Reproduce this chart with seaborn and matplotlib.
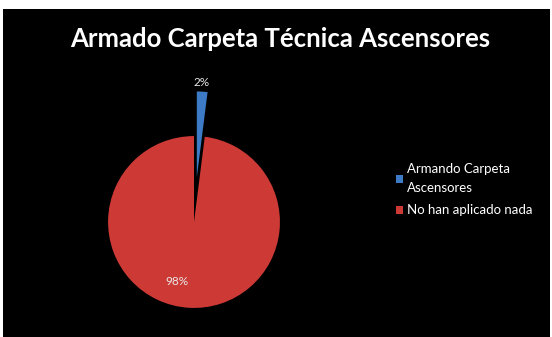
import matplotlib
matplotlib.use("Agg")
import matplotlib.pyplot as plt
import seaborn as sns

labels = ["Armando Carpeta\nAscensores", "No han aplicado nada"]
values = [2, 98]
colors = ["#3D7BC6", "#CD3A36"]
title = "Armado Carpeta Técnica Ascensores"

sns.set_theme(style="white")
plt.rcParams['font.family'] = ['Lato', 'DejaVu Sans']

W, H = 552, 337
fig = plt.figure(figsize=(W / 100, H / 100), dpi=100, facecolor="white")

# black slide background (white margin at top/left/right)
bg = fig.add_axes([3 / W, 0, (550 - 3) / W, (H - 9) / H], zorder=-1)
bg.set_facecolor("black")
bg.set_xticks([])
bg.set_yticks([])
for s in bg.spines.values():
    s.set_visible(False)

# pie axes
S = 275
cx, cy = 194, H - 222
ax = fig.add_axes([(cx - S / 2) / W, (cy - S / 2) / H, S / W, S / H], zorder=1)
ax.patch.set_alpha(0)

wedges, texts, autotexts = ax.pie(
    values, colors=colors, startangle=90, counterclock=False,
    explode=[0.52, 0.0], autopct="%1.0f%%", pctdistance=0.72,
    wedgeprops=dict(edgecolor="none"), radius=1.0,
    textprops=dict(color="#E8E8E8", fontsize=8.5))
autotexts[0].set_position((0.09, 1.62))
autotexts[1].set_position((-0.2, -0.69))
ax.set_xlim(-1.6, 1.6)
ax.set_ylim(-1.6, 1.6)
ax.axis("off")

fig.text(280 / W, 1 - 39 / H, title, color="white", fontsize=18.5,
         fontweight="bold", ha="center", va="center")

leg = fig.legend(wedges, labels, loc="upper left",
                 bbox_to_anchor=(384 / W, 1 - 151 / H),
                 frameon=False, fontsize=9.5, labelcolor="white",
                 handlelength=0.55, handleheight=0.55, handletextpad=0.3,
                 labelspacing=0.75)
for t in leg.get_texts():
    t.set_linespacing(1.75)

fig.savefig("out.png", dpi=100, facecolor="white")
